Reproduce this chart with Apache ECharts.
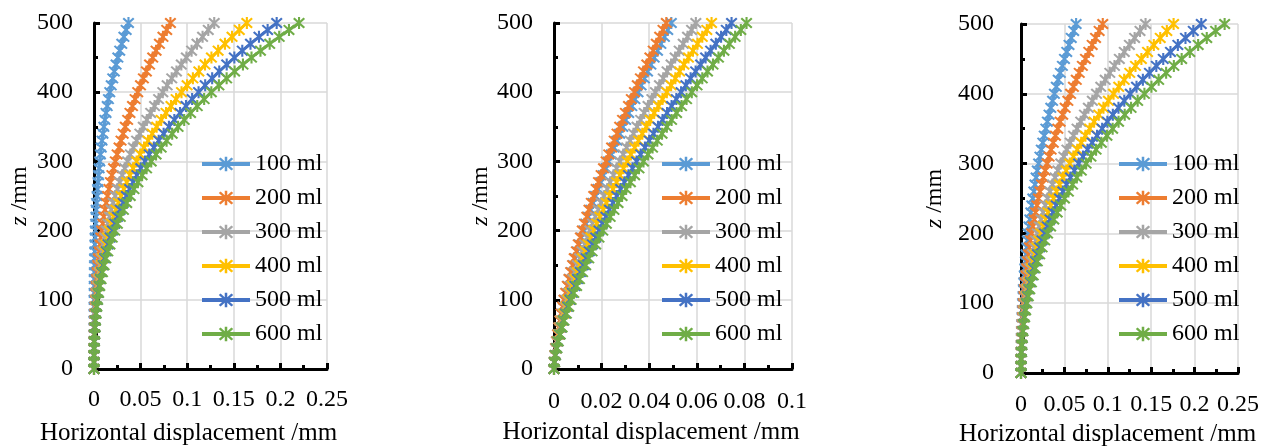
<!DOCTYPE html>
<html><head><meta charset="utf-8">
<script src="https://cdn.jsdelivr.net/npm/echarts@6/dist/echarts.min.js"></script>
<style>html,body{margin:0;padding:0;background:#fff}#c{width:1270px;height:446px}</style>
</head><body><div id="c"></div>
<script>
const zValues = [0,10,20,30,40,50,60,70,80,90,100,110,120,130,140,150,160,170,180,190,200,210,220,230,240,250,260,270,280,290,300,310,320,330,340,350,360,370,380,390,400,410,420,430,440,450,460,470,480,490,500];
const seriesNames = ['100 ml','200 ml','300 ml','400 ml','500 ml','600 ml'];

// Chart 1
const c1_100 = [0,0,0,0,0,0,0,0,0.0001,0.0001,0.0001,0.0002,0.0003,0.0003,0.0004,0.0006,0.0007,0.0009,0.0010,0.0013,0.0015,0.0018,0.0021,0.0024,0.0028,0.0033,0.0038,0.0043,0.0049,0.0055,0.0062,0.0069,0.0078,0.0086,0.0096,0.0106,0.0117,0.0129,0.0142,0.0155,0.0169,0.0185,0.0201,0.0218,0.0237,0.0256,0.0276,0.0298,0.0321,0.0345,0.0370];
const c1_200 = [0,0,0,0.0001,0.0001,0.0003,0.0004,0.0006,0.0008,0.0011,0.0015,0.0019,0.0023,0.0028,0.0034,0.0040,0.0047,0.0055,0.0064,0.0073,0.0083,0.0094,0.0105,0.0118,0.0131,0.0145,0.0160,0.0176,0.0192,0.0210,0.0229,0.0248,0.0269,0.0290,0.0313,0.0336,0.0361,0.0386,0.0413,0.0441,0.0469,0.0499,0.0530,0.0562,0.0596,0.0630,0.0666,0.0702,0.0740,0.0780,0.0820];
const c1_300 = [0,0,0,0.0001,0.0002,0.0004,0.0006,0.0009,0.0013,0.0018,0.0023,0.0029,0.0036,0.0045,0.0054,0.0064,0.0075,0.0087,0.0100,0.0115,0.0131,0.0147,0.0166,0.0185,0.0206,0.0228,0.0252,0.0276,0.0303,0.0330,0.0360,0.0390,0.0423,0.0457,0.0492,0.0529,0.0567,0.0608,0.0650,0.0693,0.0738,0.0785,0.0834,0.0885,0.0937,0.0991,0.1047,0.1105,0.1165,0.1226,0.1290];
const c1_400 = [0,0,0.0001,0.0001,0.0003,0.0005,0.0008,0.0012,0.0017,0.0023,0.0029,0.0037,0.0046,0.0057,0.0068,0.0081,0.0095,0.0111,0.0128,0.0146,0.0166,0.0187,0.0211,0.0235,0.0262,0.0290,0.0320,0.0351,0.0385,0.0420,0.0457,0.0496,0.0537,0.0580,0.0625,0.0672,0.0721,0.0773,0.0826,0.0881,0.0939,0.0999,0.1061,0.1125,0.1191,0.1260,0.1332,0.1405,0.1481,0.1559,0.1640];
const c1_500 = [0,0,0.0001,0.0002,0.0004,0.0006,0.0010,0.0014,0.0020,0.0027,0.0035,0.0044,0.0055,0.0068,0.0081,0.0097,0.0113,0.0132,0.0152,0.0174,0.0198,0.0224,0.0252,0.0281,0.0313,0.0347,0.0382,0.0420,0.0460,0.0502,0.0547,0.0593,0.0642,0.0694,0.0747,0.0804,0.0862,0.0923,0.0987,0.1053,0.1122,0.1193,0.1268,0.1344,0.1424,0.1506,0.1591,0.1679,0.1770,0.1863,0.1960];
const c1_600 = [0,0,0.0001,0.0002,0.0004,0.0007,0.0011,0.0016,0.0022,0.0030,0.0039,0.0050,0.0062,0.0076,0.0091,0.0108,0.0127,0.0148,0.0171,0.0196,0.0223,0.0251,0.0282,0.0316,0.0351,0.0389,0.0429,0.0471,0.0516,0.0564,0.0614,0.0666,0.0721,0.0779,0.0839,0.0902,0.0968,0.1036,0.1108,0.1182,0.1259,0.1340,0.1423,0.1509,0.1598,0.1690,0.1786,0.1885,0.1987,0.2092,0.2200];

// Chart 2
const c2_100 = [0,0.0001,0.0004,0.0007,0.0011,0.0016,0.0021,0.0026,0.0032,0.0038,0.0044,0.0051,0.0058,0.0065,0.0073,0.0081,0.0089,0.0098,0.0106,0.0115,0.0125,0.0134,0.0144,0.0154,0.0164,0.0174,0.0185,0.0196,0.0207,0.0218,0.0229,0.0241,0.0252,0.0264,0.0276,0.0289,0.0301,0.0314,0.0327,0.0340,0.0353,0.0366,0.0380,0.0393,0.0407,0.0421,0.0435,0.0449,0.0464,0.0478,0.0493];
const c2_200 = [0,0.0001,0.0004,0.0007,0.0011,0.0015,0.0020,0.0025,0.0030,0.0036,0.0042,0.0049,0.0056,0.0063,0.0070,0.0078,0.0085,0.0094,0.0102,0.0111,0.0119,0.0128,0.0138,0.0147,0.0157,0.0167,0.0177,0.0187,0.0198,0.0208,0.0219,0.0230,0.0242,0.0253,0.0265,0.0276,0.0288,0.0300,0.0313,0.0325,0.0338,0.0350,0.0363,0.0376,0.0390,0.0403,0.0417,0.0430,0.0444,0.0458,0.0472];
const c2_300 = [0,0.0002,0.0005,0.0009,0.0013,0.0019,0.0025,0.0031,0.0038,0.0046,0.0053,0.0062,0.0070,0.0079,0.0088,0.0098,0.0108,0.0118,0.0129,0.0140,0.0151,0.0162,0.0174,0.0186,0.0198,0.0211,0.0224,0.0236,0.0250,0.0263,0.0277,0.0291,0.0305,0.0320,0.0334,0.0349,0.0364,0.0379,0.0395,0.0411,0.0426,0.0443,0.0459,0.0475,0.0492,0.0509,0.0526,0.0543,0.0561,0.0578,0.0596];
const c2_400 = [0,0.0002,0.0005,0.0010,0.0015,0.0021,0.0028,0.0035,0.0042,0.0051,0.0059,0.0068,0.0078,0.0088,0.0098,0.0109,0.0120,0.0131,0.0143,0.0155,0.0167,0.0180,0.0193,0.0207,0.0220,0.0234,0.0248,0.0263,0.0277,0.0292,0.0308,0.0323,0.0339,0.0355,0.0371,0.0388,0.0404,0.0421,0.0439,0.0456,0.0474,0.0492,0.0510,0.0528,0.0546,0.0565,0.0584,0.0603,0.0623,0.0642,0.0662];
const c2_500 = [0,0.0002,0.0006,0.0011,0.0017,0.0024,0.0031,0.0039,0.0048,0.0057,0.0067,0.0077,0.0088,0.0099,0.0111,0.0123,0.0135,0.0148,0.0161,0.0175,0.0189,0.0203,0.0218,0.0233,0.0248,0.0264,0.0280,0.0296,0.0313,0.0330,0.0347,0.0364,0.0382,0.0400,0.0418,0.0437,0.0456,0.0475,0.0494,0.0514,0.0534,0.0554,0.0574,0.0595,0.0616,0.0637,0.0658,0.0680,0.0702,0.0724,0.0746];
const c2_600 = [0,0.0002,0.0006,0.0012,0.0018,0.0026,0.0034,0.0042,0.0052,0.0062,0.0072,0.0083,0.0095,0.0107,0.0120,0.0133,0.0146,0.0160,0.0175,0.0189,0.0205,0.0220,0.0236,0.0252,0.0269,0.0286,0.0303,0.0321,0.0339,0.0357,0.0376,0.0395,0.0414,0.0434,0.0454,0.0474,0.0494,0.0515,0.0536,0.0557,0.0579,0.0601,0.0623,0.0645,0.0668,0.0691,0.0714,0.0737,0.0761,0.0785,0.0809];

// Chart 3
const c3_100 = [0,0,0.0001,0.0001,0.0003,0.0004,0.0006,0.0009,0.0011,0.0015,0.0018,0.0023,0.0027,0.0032,0.0038,0.0044,0.0051,0.0058,0.0066,0.0074,0.0083,0.0092,0.0102,0.0113,0.0124,0.0136,0.0148,0.0161,0.0174,0.0188,0.0203,0.0218,0.0234,0.0251,0.0268,0.0286,0.0304,0.0323,0.0343,0.0364,0.0385,0.0407,0.0429,0.0453,0.0477,0.0501,0.0527,0.0553,0.0579,0.0607,0.0635];
const c3_200 = [0,0,0.0001,0.0002,0.0004,0.0006,0.0009,0.0013,0.0017,0.0022,0.0027,0.0034,0.0040,0.0048,0.0057,0.0066,0.0076,0.0086,0.0098,0.0110,0.0123,0.0137,0.0152,0.0167,0.0184,0.0201,0.0219,0.0238,0.0258,0.0279,0.0301,0.0324,0.0347,0.0372,0.0397,0.0424,0.0451,0.0480,0.0509,0.0540,0.0571,0.0604,0.0637,0.0671,0.0707,0.0743,0.0781,0.0820,0.0859,0.0900,0.0942];
const c3_300 = [0,0,0.0001,0.0003,0.0006,0.0009,0.0014,0.0019,0.0026,0.0033,0.0042,0.0051,0.0062,0.0073,0.0086,0.0100,0.0115,0.0131,0.0149,0.0167,0.0187,0.0209,0.0231,0.0255,0.0280,0.0306,0.0334,0.0363,0.0393,0.0425,0.0458,0.0493,0.0529,0.0567,0.0605,0.0646,0.0688,0.0731,0.0776,0.0822,0.0870,0.0919,0.0970,0.1023,0.1077,0.1133,0.1190,0.1249,0.1309,0.1371,0.1435];
const c3_400 = [0,0.0001,0.0002,0.0004,0.0007,0.0012,0.0017,0.0024,0.0031,0.0041,0.0051,0.0063,0.0075,0.0090,0.0105,0.0123,0.0141,0.0161,0.0182,0.0205,0.0230,0.0256,0.0283,0.0312,0.0343,0.0375,0.0409,0.0445,0.0482,0.0521,0.0562,0.0604,0.0648,0.0694,0.0742,0.0791,0.0842,0.0896,0.0950,0.1007,0.1066,0.1126,0.1189,0.1253,0.1319,0.1387,0.1458,0.1530,0.1604,0.1680,0.1758];
const c3_500 = [0,0.0001,0.0002,0.0005,0.0009,0.0014,0.0020,0.0028,0.0037,0.0048,0.0060,0.0074,0.0089,0.0106,0.0125,0.0145,0.0167,0.0190,0.0215,0.0242,0.0271,0.0302,0.0334,0.0369,0.0405,0.0443,0.0483,0.0525,0.0570,0.0615,0.0664,0.0714,0.0766,0.0820,0.0876,0.0935,0.0995,0.1058,0.1123,0.1190,0.1259,0.1331,0.1404,0.1480,0.1559,0.1639,0.1722,0.1807,0.1895,0.1985,0.2077];
const c3_600 = [0,0.0001,0.0002,0.0005,0.0010,0.0015,0.0023,0.0032,0.0042,0.0054,0.0068,0.0084,0.0101,0.0120,0.0141,0.0164,0.0188,0.0215,0.0243,0.0274,0.0306,0.0341,0.0378,0.0417,0.0457,0.0501,0.0546,0.0594,0.0643,0.0695,0.0750,0.0806,0.0865,0.0926,0.0990,0.1056,0.1124,0.1195,0.1268,0.1344,0.1422,0.1503,0.1586,0.1672,0.1761,0.1851,0.1945,0.2041,0.2140,0.2242,0.2346];

const chartData = [
  [c1_100, c1_200, c1_300, c1_400, c1_500, c1_600],
  [c2_100, c2_200, c2_300, c2_400, c2_500, c2_600],
  [c3_100, c3_200, c3_300, c3_400, c3_500, c3_600]
];
const xMax = [0.25, 0.1, 0.25];
const xInterval = [0.05, 0.02, 0.05];
const yMax = 500, yInterval = 100;
const xTitle = 'Horizontal displacement /mm';

const colors = ['#5B9BD5','#ED7D31','#A5A5A5','#FFC000','#4472C4','#70AD47'];
const FONT = 'Liberation Serif, Times New Roman, serif';
const STAR = 'path://M4.2 0L5.8 0L5.8 10L4.2 10Z M1.566 0.434L9.566 8.434L8.434 9.566L0.434 1.566Z M9.566 1.566L1.566 9.566L0.434 8.434L8.434 0.434Z';

const grids = [
  {left: 94, top: 23, width: 233, height: 346, outerBoundsMode: 'none', containLabel: false},
  {left: 554, top: 23, width: 238, height: 346, outerBoundsMode: 'none', containLabel: false},
  {left: 1021, top: 24, width: 217, height: 349, outerBoundsMode: 'none', containLabel: false}
];
const yLabelMargin = [21, 21, 27];
const yNameGap = [62, 60, 74];
const xLabelMargin = [19, 21, 20];
const xNameGap = [52, 51, 48];
const legendPos = [{left: 200, top: 152}, {left: 660, top: 152}, {left: 1117, top: 152}];

const black = '#000';
function axisCommon() {
  return {
    axisLine: {show: true, onZero: false, lineStyle: {color: black, width: 3}},
    axisTick: {show: true, inside: true, length: 6, lineStyle: {color: black, width: 3}},
    minorTick: {show: true, splitNumber: 2, length: 4, lineStyle: {color: black, width: 3}},
    splitLine: {show: true, lineStyle: {color: '#d9d9d9', width: 1.5}},
    minorSplitLine: {show: false}
  };
}

const xAxes = [], yAxes = [], series = [], legends = [];
for (let i = 0; i < 3; i++) {
  xAxes.push(Object.assign(axisCommon(), {
    gridIndex: i, type: 'value', min: 0, max: xMax[i], interval: xInterval[i],
    axisLabel: {fontFamily: FONT, fontSize: 24, color: black, margin: xLabelMargin[i]},
    name: xTitle, nameLocation: 'middle', nameGap: xNameGap[i],
    nameTextStyle: {fontFamily: FONT, fontSize: 25, color: black, padding: [0, 44, 0, 0]}
  }));
  yAxes.push(Object.assign(axisCommon(), {
    gridIndex: i, type: 'value', min: 0, max: yMax, interval: yInterval,
    axisLabel: {fontFamily: FONT, fontSize: 24, color: black, margin: yLabelMargin[i]},
    name: '{i|z} /mm', nameLocation: 'middle', nameGap: yNameGap[i],
    nameTextStyle: {fontFamily: FONT, fontSize: 24, color: black,
      rich: {i: {fontFamily: FONT, fontSize: 24, fontStyle: 'italic', color: black}}}
  }));
  legends.push({
    data: seriesNames, orient: 'vertical', left: legendPos[i].left, top: legendPos[i].top,
    itemWidth: 48, itemHeight: 18, itemGap: 10, padding: 0, selectedMode: false,
    textStyle: {fontFamily: FONT, fontSize: 24, color: black},
    lineStyle: {width: 4}
  });
  chartData[i].forEach((vals, j) => {
    series.push({
      type: 'line', name: seriesNames[j], xAxisIndex: i, yAxisIndex: i,
      data: zValues.map((z, k) => [vals[k], z]),
      symbol: STAR, symbolSize: 12, showSymbol: true,
      lineStyle: {width: 3, color: colors[j]},
      itemStyle: {color: colors[j]},
      z: 3 + j, animation: false
    });
  });
}

const chart = echarts.init(document.getElementById('c'), null, {renderer: 'canvas'});
chart.setOption({
  backgroundColor: '#fff',
  animation: false,
  color: colors,
  grid: grids,
  xAxis: xAxes,
  yAxis: yAxes,
  legend: legends,
  series: series
});
</script></body></html>
